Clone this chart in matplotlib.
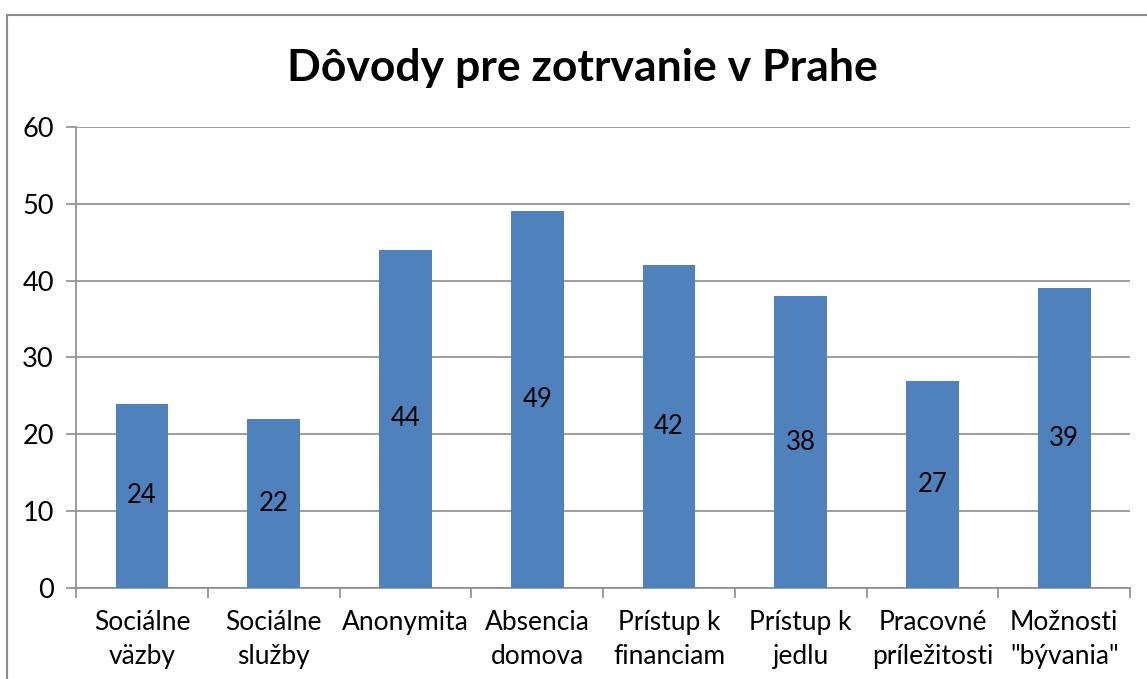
import matplotlib
matplotlib.use("Agg")
from matplotlib import pyplot as plt
from matplotlib.patches import Rectangle
import numpy as np

# Datos del gráfico
kategorie = ['Sociálne\nväzby', 'Sociálne\nslužby', 'Anonymita', 'Absencia\ndomova',
             'Prístup k\nfinanciam', 'Prístup k\njedlu', 'Pracovné\npríležitosti',
             'Možnosti\n"bývania"']
hodnoty = [24, 22, 44, 49, 42, 38, 27, 39]
y_ticks = [0, 10, 20, 30, 40, 50, 60]

plt.rcParams['font.family'] = ['Lato', 'DejaVu Sans']

fig = plt.figure(figsize=(11.47, 6.79), dpi=100)
ax = fig.add_axes([0.0663, 0.134, 0.919, 0.679])

# borde del gráfico (recortado a la derecha y abajo)
fig.patches.append(Rectangle((7 / 1147, -0.1), 1.2, 1 - 15 / 679 + 0.1,
                             transform=fig.transFigure, fill=False,
                             edgecolor='#8c8c8c', linewidth=1.5))

x = np.arange(len(kategorie))
barras = ax.bar(x, hodnoty, width=0.4, color='#4F81BD', zorder=3)

for xi, v in zip(x, hodnoty):
    ax.text(xi, v / 2, str(v), ha='center', va='center', fontsize=18.5, color='black', zorder=4)

ax.set_xlim(-0.5, len(kategorie) - 0.5)
ax.set_ylim(0, 60)
ax.set_yticks(y_ticks)
ax.yaxis.grid(True, color='#8c8c8c', linewidth=1.2, zorder=0)

# ticks del eje x en los límites de categoría
ax.set_xticks(np.arange(len(kategorie) + 1) - 0.5)
ax.set_xticklabels([])
ax.set_xticks(x, minor=True)
ax.set_xticklabels(kategorie, minor=True, fontsize=19, linespacing=1.45)
ax.tick_params(axis='x', which='minor', length=0, pad=16)
ax.tick_params(axis='x', which='major', length=7, color='#8c8c8c', width=1.2)
ax.tick_params(axis='y', length=7, color='#8c8c8c', width=1.2, labelsize=19.5, pad=9)

for s in ['top', 'right']:
    ax.spines[s].set_visible(False)
for s in ['left', 'bottom']:
    ax.spines[s].set_color('#8c8c8c')
    ax.spines[s].set_linewidth(1.2)

fig.text(0.508, 0.9, 'Dôvody pre zotrvanie v Prahe', ha='center', va='center',
         fontsize=32, fontweight='bold')

plt.savefig('out.png', dpi=100)
